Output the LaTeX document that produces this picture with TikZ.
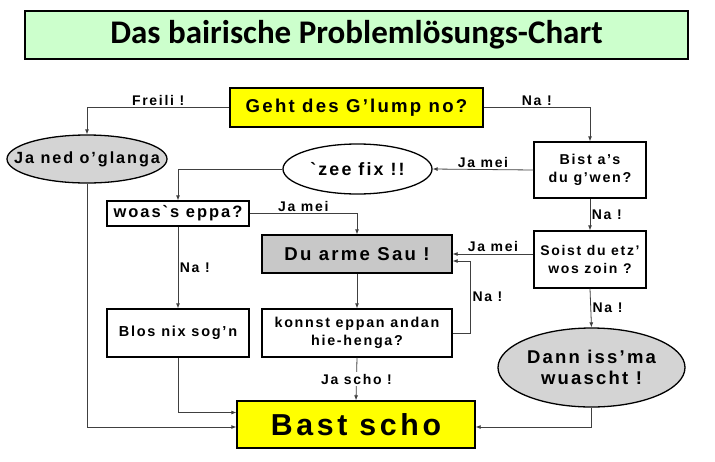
\documentclass[tikz,border=0pt]{standalone}
\usepackage{fontspec}
\setmainfont{Liberation Sans}[LetterSpace=12,Ligatures=TeXOff]
\newfontfamily\titlefont{Carlito}
\usetikzlibrary{shapes.geometric,arrows.meta}
\definecolor{titlegreen}{RGB}{204,255,204}
\definecolor{sauyellow}{RGB}{255,255,0}
\definecolor{boxgray}{RGB}{200,200,200}
\definecolor{ovalgray}{RGB}{212,212,212}
\begin{document}
\begin{tikzpicture}[x=1pt,y=-1pt,>={Latex[length=5pt,width=4pt]},
  box/.style={draw,line width=1.3pt,inner sep=0pt,align=center},
  oval/.style={ellipse,draw,line width=1.3pt,inner sep=0pt,fill=ovalgray},
  line/.style={draw=black!75,line width=0.8pt},
  tag/.style={font=\bfseries\fontsize{14}{16}\selectfont,inner sep=1.5pt}]
\useasboundingbox (0,0) rectangle (715,461);
% title
\node[box,fill=titlegreen,minimum width=663pt,minimum height=48pt,
  font=\titlefont\bfseries\fontsize{33}{36}\selectfont] (title) at (356.5,35) {Das bairische Problemlösungs-Chart};
% boxes and ovals
\node[box,fill=sauyellow,minimum width=253pt,minimum height=39pt,font=\bfseries\fontsize{18.6}{22}\selectfont] (geht) at (356.5,107.5) {Geht des G’lump no?};
\node[oval,minimum width=160pt,minimum height=48pt,
  label={[font=\bfseries\fontsize{16.2}{20}\selectfont]center:Ja ned o’glanga}] (janed) at (87,159) {};
\node[oval,fill=white,minimum width=149pt,minimum height=50pt,
  label={[font=\bfseries\fontsize{17.8}{22}\selectfont]center:`zee fix !!}] (zee) at (357.5,169) {};
\node[box,minimum width=112pt,minimum height=56pt,font=\bfseries\fontsize{14.3}{17.5}\selectfont] (bist) at (590,170) {Bist a’s\\du g’wen?};
\node[box,minimum width=142pt,minimum height=25pt,font=\bfseries\fontsize{16.5}{20}\selectfont] (woas) at (178,213.5) {woas`s eppa?};
\node[box,fill=boxgray,minimum width=190pt,minimum height=38pt,font=\bfseries\fontsize{18.6}{22}\selectfont] (duarme) at (357,254) {Du arme Sau !};
\node[box,minimum width=112pt,minimum height=57pt,font=\bfseries\fontsize{14}{18}\selectfont] (soist) at (590,259.5) {Soist du etz’\\wos zoin ?};
\node[box,minimum width=142pt,minimum height=48pt,font=\bfseries\fontsize{14.5}{18}\selectfont] (blos) at (178,333) {Blos nix sog’n};
\node[box,minimum width=190pt,minimum height=48pt,font=\bfseries\fontsize{14.3}{18}\selectfont] (konnst) at (357,333) {konnst eppan andan\\hie-henga?};
\node[oval,minimum width=187pt,minimum height=79pt,
  label={[align=center,font=\bfseries\fontsize{18.5}{21}\selectfont]center:Dann iss’ma\\wuascht !}] (dann) at (591.5,367.5) {};
\node[box,fill=sauyellow,minimum width=238pt,minimum height=47pt,font=\bfseries\fontsize{30.3}{32}\selectfont] (bast) at (356,424.5) {Bast scho};
% connectors
\draw[line,->] (geht.west) -| node[tag,above,pos=0.25] (lfreili) {Freili !} (janed.north);
\draw[line,->] (geht.east) -| node[tag,above,pos=0.25] (lna1) {Na !} (bist.north);
\draw[line,->] (bist.west) -- node[tag,above] (ljamei1) {Ja mei} (zee.east);
\draw[line,->] (zee.west) -| (woas.north);
\draw[line,->] (woas.east) -| node[tag,above,pos=0.25] (ljamei2) {Ja mei} (duarme.north);
\draw[line,->] (bist.south) -- node[tag,right] (lna2) {Na !} (soist.north);
\draw[line,->] (woas.south) -- node[tag,right] (lna3) {Na !} (blos.north);
\draw[line,->] (duarme.east -| soist.west) -- node[tag,above] (ljamei3) {Ja mei} (duarme.east);
\draw[line,->] (duarme.south) -- (konnst.north);
\draw[line,->] (konnst.east) -- ++(18,0) |- node[tag,right,pos=0.25] (lna4) {Na !} ([yshift=-7pt]duarme.east);
\draw[line,->] (konnst.south) -- node[tag,fill=white] (ljascho) {Ja scho !} (bast.north);
\draw[line,->] (soist.south) -- node[tag,right] (lna5) {Na !} (dann.north);
\draw[line,->] (dann.south) |- ([yshift=-2.5pt]bast.east);
\draw[line,->] (blos.south) |- ([yshift=12pt]bast.west);
\draw[line,->] (janed.south) |- ([yshift=-2.5pt]bast.west);
\end{tikzpicture}
\end{document}
